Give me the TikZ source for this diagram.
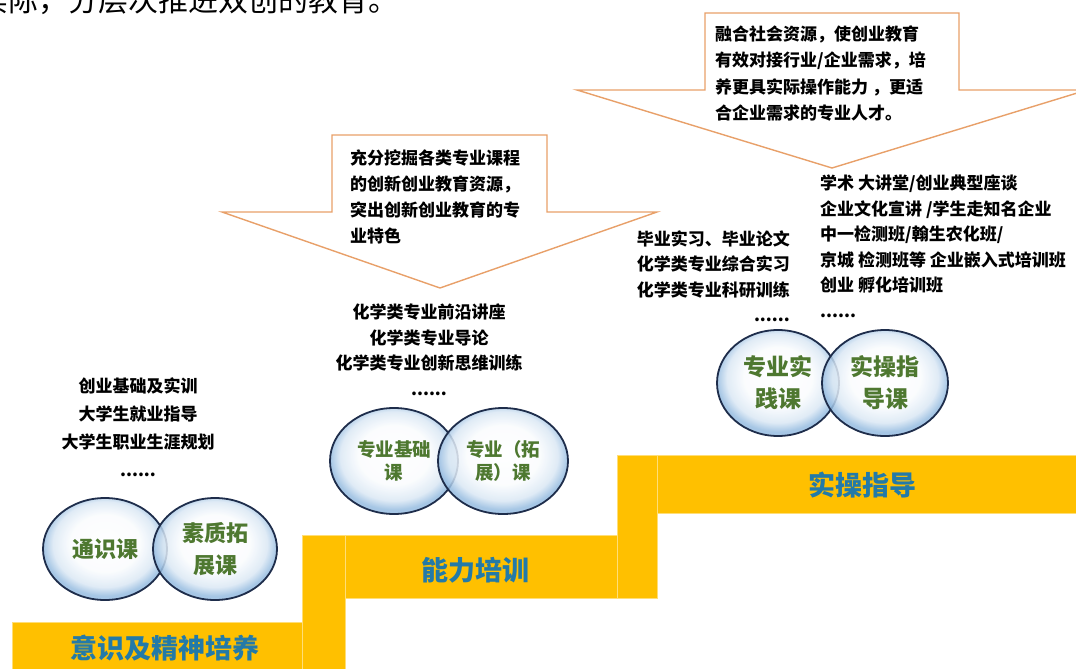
\documentclass[tikz,border=0pt]{standalone}
\usepackage{fontspec}
\setmainfont{Noto Sans CJK SC}
\usetikzlibrary{shapes.geometric}

\definecolor{stepyellow}{RGB}{255,192,0}
\definecolor{stepline}{RGB}{255,222,120}
\definecolor{calloutorange}{RGB}{232,160,105}
\definecolor{bubbleblue}{RGB}{150,188,224}
\definecolor{bubbleedge}{RGB}{30,45,75}
\definecolor{bubbletext}{RGB}{78,120,48}
\definecolor{steptext}{RGB}{35,122,168}

\pgfdeclareradialshading{bubbleshade}{\pgfpoint{0bp}{4bp}}{%
    color(0bp)=(white); color(14bp)=(white!95!bubbleblue);
    color(21bp)=(white!65!bubbleblue); color(25bp)=(bubbleblue);
    color(50bp)=(bubbleblue)}

\begin{document}
\begin{tikzpicture}[x=1pt, y=-1pt,
        stepblock/.style={fill=stepyellow, draw=stepline, line width=1pt},
        steplabel/.style={font=\fontsize{27}{27}\selectfont\bfseries, text=steptext},
        bubble/.style={ellipse, draw=bubbleedge, line width=1.8pt, shading=bubbleshade,
            fill opacity=0.85, text opacity=1, align=center,
            text=bubbletext, inner sep=0pt},
        callout/.style={draw=calloutorange, line width=1.4pt, fill=white},
        listtext/.style={font=\fontsize{17}{25.5}\selectfont\bfseries, inner sep=0pt}
    ]
    \useasboundingbox (0,0) rectangle (1076,669);

    % cut-off line of the page above
    \node[anchor=base west, inner sep=0pt, font=\fontsize{30}{30}\selectfont] (topline)
        at (-22,12) {实际，分层次推进双创的教育。};

    % staircase
    \fill[stepblock] (12,622) rectangle (302,675);
    \fill[stepblock] (302,535) rectangle (345,675);
    \fill[stepblock] (345,535) rectangle (617,598);
    \fill[stepblock] (617,455) rectangle (657,598);
    \fill[stepblock] (657,455) rectangle (1082,513);
    \node[steplabel] (yishi) at (165,648) {意识及精神培养};
    \node[steplabel] (nengli) at (475,570) {能力培训};
    \node[steplabel] (shicao) at (862,485) {实操指导};

    % callout arrows
    \draw[callout] (222,212) -- (332,212) -- (332,135) -- (547,135) -- (547,212)
        -- (657,212) -- (440,288) -- cycle;
    \draw[callout] (577,90) -- (705,90) -- (705,13) -- (959,13) -- (959,90)
        -- (1087,90) -- (832,168) -- cycle;
    \node[listtext, font=\fontsize{17}{25.7}\selectfont\bfseries, align=left,
        anchor=north west] (wajue) at (350,150)
        {充分挖掘各类专业课程\\的创新创业教育资源，\\突出创新创业教育的专\\业特色};
    \node[listtext, font=\fontsize{17}{26.5}\selectfont\bfseries, align=left,
        anchor=north west] (ronghe) at (715,25)
        {融合社会资源，使创业教育\\有效对接行业/企业需求，培\\养更具实际操作能力 ，更适\\合企业需求的专业人才。};

    % course lists
    \node[listtext, font=\fontsize{17}{28}\selectfont\bfseries, align=center,
        anchor=north] (tongshilist) at (138,377)
        {创业基础及实训\\大学生就业指导\\大学生职业生涯规划\\......};
    \node[listtext, align=center, anchor=north] (zhuanyelist) at (429,304)
        {化学类专业前沿讲座\\化学类专业导论\\化学类专业创新思维训练\\......};
    \node[listtext, align=right, anchor=north east] (shijianlist) at (790,230)
        {毕业实习、毕业论文\\化学类专业综合实习\\化学类专业科研训练\\......};
    \node[listtext, align=left, anchor=north west] (zhidaolist) at (820,175)
        {学术 大讲堂/创业典型座谈\\企业文化宣讲 /学生走知名企业\\中一检测班/翰生农化班/\\京城 检测班等 企业嵌入式培训班\\创业 孵化培训班\\......};

    % bubbles
    \node[bubble, minimum width=124pt, minimum height=102pt,
        font=\fontsize{22}{32}\selectfont\bfseries] (tongshi) at (105,549) {通识课};
    \node[bubble, minimum width=124pt, minimum height=102pt,
        font=\fontsize{22}{32}\selectfont\bfseries] (suzhi) at (215,549) {素质拓\\展课};
    \node[bubble, minimum width=128pt, minimum height=106pt,
        font=\fontsize{18.5}{23}\selectfont\bfseries] (jichu) at (394,461) {专业基础\\课};
    \node[bubble, minimum width=130pt, minimum height=106pt,
        font=\fontsize{18.5}{23}\selectfont\bfseries] (tuozhan) at (503,461) {专业（拓\\展）课};
    \node[bubble, minimum width=122pt, minimum height=106pt,
        font=\fontsize{23}{32}\selectfont\bfseries] (shijian) at (778,383) {专业实\\践课};
    \node[bubble, minimum width=126pt, minimum height=106pt,
        font=\fontsize{23}{32}\selectfont\bfseries] (zhidao) at (885,383) {实操指\\导课};
\end{tikzpicture}
\end{document}
